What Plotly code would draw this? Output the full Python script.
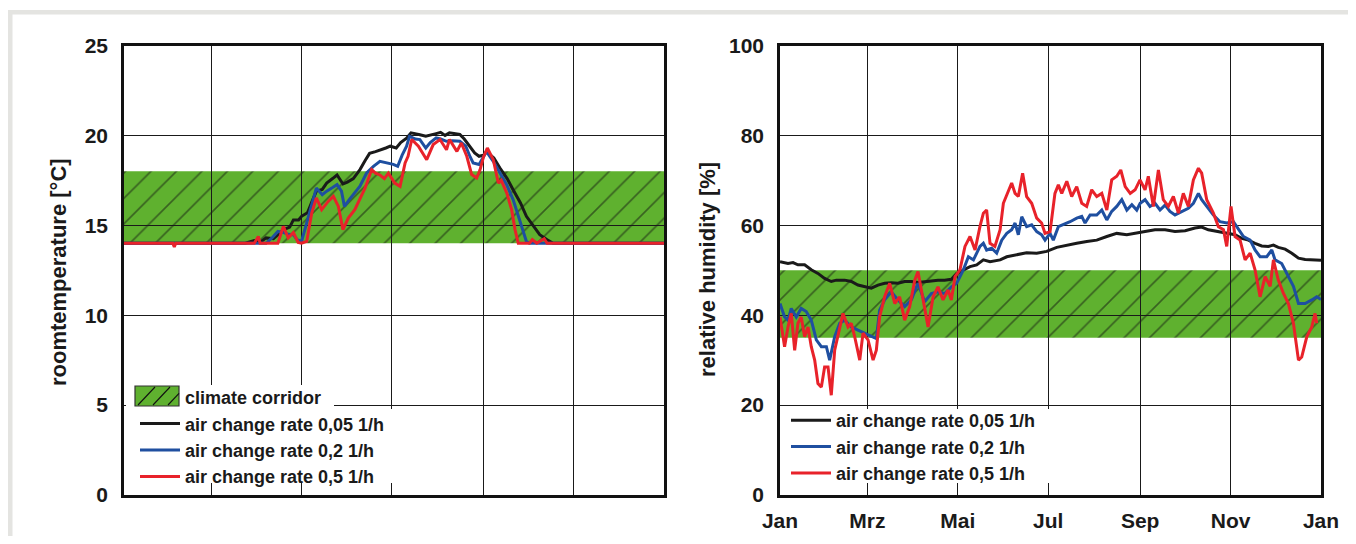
import plotly.graph_objects as go

# ---------------- data ----------------
MONTH_TICKS = [0, 59, 120, 181, 243, 304, 365]
MONTH_LABELS = ["Jan", "Mrz", "Mai", "Jul", "Sep", "Nov", "Jan"]

CORRIDOR_T = [14, 18]     # climate corridor, room temperature [°C]
CORRIDOR_RH = [35, 50]    # climate corridor, relative humidity [%]

SERIES_NAMES = ["air change rate 0,05 1/h", "air change rate 0,2 1/h", "air change rate 0,5 1/h"]

# room temperature, air change rate 0,05 1/h
T_BLACK_DAY = [0, 82, 88, 92, 96, 101, 108, 112, 114.5, 118, 120, 124, 127, 130, 134, 137, 141, 144, 148,
               151, 155, 159.5, 163, 166, 170, 173, 177, 180, 184, 187, 191, 194, 197, 200, 204, 207, 211,
               214, 217, 220, 224, 227, 230, 232, 234, 237, 240, 243, 245, 248, 250, 254, 259, 263, 268,
               272, 277, 281, 286, 290, 365]
T_BLACK = [14.0, 14.0, 14.15, 14.05, 14.3, 14.25, 14.76, 14.9, 15.3, 15.3, 15.5, 15.7, 16.3, 16.9, 17.0,
           17.35, 17.6, 17.8, 17.3, 17.4, 17.6, 18.1, 18.6, 19.0, 19.1, 19.17, 19.3, 19.4, 19.3, 19.6, 19.85,
           20.14, 20.1, 20.04, 19.95, 20.0, 20.1, 20.17, 20.0, 20.14, 20.1, 20.05, 19.8, 19.58, 19.3, 19.03,
           18.84, 18.9, 19.1, 18.9, 18.75, 18.2, 17.6, 16.98, 16.24, 15.5, 14.94, 14.48, 14.2, 14.0, 14.0]

# room temperature, air change rate 0,2 1/h
T_BLUE_DAY = [0, 96, 100, 104, 108, 111, 114.5, 117, 120, 123, 127, 130, 134, 137, 141, 144, 147, 149, 152,
              155, 159.5, 164, 168.6, 173, 177, 182, 185, 188, 191, 193, 197, 200, 204, 207, 211, 214, 218,
              222, 227, 231, 234, 236, 240, 245, 249.6, 254, 258.7, 263, 266.5, 270, 272, 274, 365]
T_BLUE = [14.0, 14.0, 14.3, 14.66, 14.6, 14.5, 14.48, 14.2, 14.1, 15.0, 16.3, 17.07, 16.7, 16.9, 17.1, 17.26,
          16.9, 16.05, 16.4, 16.7, 17.17, 17.91, 18.28, 18.56, 18.5, 18.39, 18.28, 18.9, 19.4, 19.95, 19.8,
          19.77, 19.3, 19.6, 19.86, 19.8, 19.67, 19.7, 19.67, 19.4, 18.8, 18.47, 18.38, 19.1, 18.56, 17.9,
          17.26, 16.43, 15.5, 14.57, 14.1, 14.0, 14.0]

# room temperature, air change rate 0,5 1/h
T_RED_DAY = [0, 33, 34, 35, 88, 90.8, 92, 104, 107.7, 111, 114.5, 117.7, 120, 123.5, 126.9, 130, 133.6, 138,
             141.5, 144.9, 148, 151.6, 156, 159.5, 163, 167.4, 170, 173, 176, 178.7, 183, 186.6, 190, 192,
             194.5, 199, 204.6, 209, 213.6, 218, 220, 225, 228, 231.7, 235, 238.4, 240.7, 243, 245.6, 249.6,
             253, 255, 258.7, 262, 264.3, 266.5, 274, 276, 279, 284, 286, 365]
T_RED = [14.0, 14.0, 13.8, 14.0, 14.0, 14.38, 14.0, 14.0, 14.94, 14.3, 14.6, 14.05, 14.0, 14.1, 15.68, 16.52,
         15.87, 16.33, 16.61, 16.05, 14.76, 15.4, 15.87, 16.43, 17.08, 18.1, 17.9, 17.8, 17.6, 17.9, 17.35,
         17.17, 18.47, 18.84, 19.77, 19.4, 18.65, 19.49, 19.77, 19.2, 19.77, 19.11, 19.58, 18.84, 17.82,
         17.63, 18.1, 18.8, 19.3, 18.65, 17.35, 17.5, 16.8, 15.87, 14.76, 14.0, 14.0, 14.2, 14.0, 14.25,
         14.0, 14.0]

# relative humidity, air change rate 0,05 1/h
RH_BLACK_DAY = [0, 5.4, 8.8, 12.1, 16.6, 21.1, 25.6, 30.1, 34.6, 38.0, 43.6, 48.1, 52.6, 57.1, 61.6, 66.1,
                70.6, 75.1, 79.6, 84.1, 88.6, 93.1, 97.6, 102.1, 106.6, 111.1, 115.6, 119.2, 123.7, 128.2,
                132.7, 137.2, 141.7, 148.5, 153.0, 159.7, 166.4, 173.2, 179.9, 186.7, 193.5, 200.2, 207.0,
                213.7, 220.5, 227.2, 234.0, 240.7, 246.3, 253.0, 259.8, 266.5, 273.3, 280.0, 284.5, 289.0,
                295.8, 302.5, 307.0, 311.5, 316.0, 320.5, 325.0, 329.5, 332.9, 336.2, 340.8, 345.3, 349.8,
                354.3, 361.0, 365]
RH_BLACK = [51.9, 51.5, 51.7, 51.2, 51.2, 50.1, 49.3, 48.2, 47.5, 47.8, 47.8, 47.5, 46.7, 46.3, 46.0, 46.7,
            47.1, 47.2, 47.1, 47.5, 47.5, 47.3, 47.5, 47.7, 47.8, 47.8, 48.0, 49.3, 50.1, 50.8, 51.2, 52.3,
            51.9, 52.3, 53.0, 53.4, 53.9, 53.8, 54.2, 55.1, 55.6, 56.0, 56.4, 56.7, 57.5, 58.2, 57.9, 58.2,
            58.6, 59.0, 59.0, 58.6, 58.8, 59.4, 59.6, 59.0, 58.6, 58.2, 57.9, 57.1, 56.7, 56.0, 55.4, 55.3,
            55.6, 55.1, 54.7, 53.8, 52.7, 52.4, 52.3, 52.2]

# relative humidity, air change rate 0,2 1/h
RH_BLUE_DAY = [0, 3.1, 5.4, 7.6, 11.0, 14.3, 17.7, 21.1, 24.5, 27.9, 31.3, 33.5, 36.9, 40.3, 43.6, 48.1, 52.6,
               57.1, 61.6, 65.0, 67.2, 70.6, 75.1, 79.6, 84.1, 88.6, 93.1, 97.6, 102.1, 106.6, 111.1, 115.6,
               119.2, 123.7, 127.1, 130.5, 134.9, 137.2, 139.4, 142.8, 146.2, 149.6, 153.0, 156.3, 158.6,
               160.8, 163.1, 166.4, 169.8, 173.2, 176.5, 178.8, 182.2, 184.4, 187.8, 191.2, 195.7, 200.2,
               203.6, 205.8, 209.2, 213.7, 217.1, 220.5, 223.8, 227.2, 230.6, 234.0, 237.4, 240.7, 243.0,
               246.3, 249.6, 253.0, 256.4, 259.8, 263.1, 266.5, 271.0, 275.5, 278.9, 282.3, 284.5, 287.9,
               292.4, 296.9, 301.4, 305.9, 309.3, 312.7, 317.2, 320.5, 323.9, 328.4, 331.8, 334.0, 338.5,
               343.0, 346.4, 349.8, 354.3, 358.8, 362.1, 365]
RH_BLUE = [42.6, 39.6, 38.9, 41.5, 39.6, 41.5, 40.8, 38.9, 34.5, 33.0, 33.0, 30.0, 35.2, 38.2, 38.9, 37.4,
           36.7, 36.0, 35.2, 34.8, 41.1, 43.4, 45.2, 43.4, 41.9, 43.4, 47.1, 43.0, 44.8, 45.2, 44.8, 46.3,
           47.1, 50.1, 53.0, 52.3, 55.3, 56.0, 54.5, 54.9, 53.8, 56.7, 58.2, 59.0, 60.5, 57.9, 61.9, 59.7,
           60.1, 58.6, 57.9, 56.7, 58.2, 56.7, 59.7, 60.1, 60.8, 61.6, 62.0, 60.5, 62.3, 62.3, 63.4, 61.2,
           63.1, 64.2, 65.7, 63.4, 64.6, 63.4, 64.9, 65.7, 64.2, 64.9, 63.4, 64.5, 63.1, 62.3, 63.1, 63.8,
           64.9, 67.1, 65.7, 64.2, 62.3, 60.8, 60.5, 60.8, 59.0, 57.5, 56.7, 54.5, 53.0, 53.0, 54.5, 52.3,
           51.5, 48.6, 46.4, 42.6, 42.6, 43.4, 44.1, 43.5]

# relative humidity, air change rate 0,5 1/h
RH_RED_DAY = [0, 3.1, 5.4, 7.6, 9.9, 12.1, 14.3, 16.6, 18.9, 21.1, 23.4, 25.6, 27.9, 30.1, 32.4, 34.6, 36.9,
              39.1, 42.5, 45.9, 48.1, 50.4, 53.8, 56.0, 59.4, 62.8, 65.0, 67.2, 70.6, 74.0, 77.4, 80.7,
              84.1, 87.5, 90.9, 93.1, 96.5, 99.9, 103.3, 106.6, 110.0, 113.4, 115.6, 118.1, 121.4, 124.8,
              128.2, 131.6, 134.9, 137.2, 139.4, 141.7, 145.0, 148.5, 150.7, 154.1, 156.3, 158.6, 160.8,
              163.7, 166.4, 169.8, 173.2, 176.5, 178.8, 182.2, 185.5, 187.8, 190.1, 193.5, 196.8, 200.2,
              203.6, 206.9, 210.3, 213.7, 217.1, 220.5, 223.8, 227.2, 229.9, 232.9, 236.3, 239.6, 242.9,
              246.3, 248.5, 251.9, 255.3, 258.6, 262.0, 265.4, 268.8, 272.1, 275.5, 278.9, 282.3, 284.5,
              287.9, 292.4, 295.8, 299.2, 301.4, 304.3, 307.0, 310.4, 313.8, 317.2, 320.5, 323.9, 327.3,
              330.7, 332.9, 336.2, 339.6, 343.0, 346.4, 349.8, 352.0, 355.4, 358.8, 361.0, 362.1]
RH_RED = [39.6, 33.0, 37.4, 40.4, 32.2, 38.2, 39.6, 35.2, 37.4, 33.0, 30.0, 24.8, 24.0, 28.5, 28.5, 22.2,
          32.2, 35.2, 40.4, 37.4, 38.2, 35.2, 30.0, 36.0, 34.5, 30.0, 32.2, 39.6, 44.1, 47.1, 42.6, 44.1,
          38.9, 41.9, 47.8, 49.7, 43.4, 37.4, 44.1, 46.3, 43.4, 45.6, 43.4, 48.6, 50.1, 55.3, 57.5, 54.5,
          59.7, 62.7, 63.4, 56.0, 55.3, 59.0, 64.9, 67.5, 69.4, 67.1, 66.4, 71.6, 66.4, 64.9, 61.6, 60.5,
          58.2, 58.6, 67.1, 69.0, 67.1, 69.8, 66.4, 68.6, 64.9, 64.2, 67.9, 66.4, 67.1, 63.4, 70.1, 70.9,
          72.3, 68.6, 67.1, 67.9, 70.1, 67.9, 70.9, 64.2, 72.3, 65.7, 64.2, 66.4, 62.7, 67.1, 64.2, 70.1,
          72.7, 71.6, 65.7, 62.7, 59.7, 59.0, 55.3, 64.2, 57.5, 56.7, 52.3, 53.8, 50.1, 44.1, 48.6, 46.4,
          52.3, 47.8, 44.9, 42.6, 38.2, 30.0, 30.7, 35.2, 37.4, 40.4, 38.2]

# ---------------- styling ----------------
PAGE_OFF = 8                     # default body margin of the html page
W, H = 1356 - 2 * PAGE_OFF, 544 - 2 * PAGE_OFF
FONT = "Liberation Sans, Arial, sans-serif"
GREEN = "#5fb12f"
COLORS = ["#1a1a1a", "#1f4fa0", "#e8222a"]
GRID = "#1a1a1a"


def px_x(p):
    """page pixel -> paper x"""
    return (p - PAGE_OFF) / W


def px_y(p):
    """page pixel -> paper y"""
    return 1 - (p - PAGE_OFF) / H


LEFT_DOM = [px_x(124), px_x(664)]
RIGHT_DOM = [px_x(780), px_x(1321)]
Y_DOM = [px_y(495), px_y(45.5)]

fig = go.Figure()

hatch = dict(shape="/", bgcolor=GREEN, fgcolor="#111111", size=18, solidity=0.09)

# corridor layers (drawn underneath the gridded axes)
fig.add_trace(go.Scatter(
    x=[MONTH_TICKS[0], MONTH_TICKS[-1], MONTH_TICKS[-1], MONTH_TICKS[0], MONTH_TICKS[0]],
    y=[CORRIDOR_T[0], CORRIDOR_T[0], CORRIDOR_T[1], CORRIDOR_T[1], CORRIDOR_T[0]],
    fill="toself", fillcolor=GREEN, fillpattern=hatch, mode="lines",
    line=dict(width=0, color=GREEN), showlegend=False,
    xaxis="x", yaxis="y", hoverinfo="skip"))
fig.add_trace(go.Scatter(
    x=[MONTH_TICKS[0], MONTH_TICKS[-1], MONTH_TICKS[-1], MONTH_TICKS[0], MONTH_TICKS[0]],
    y=[CORRIDOR_RH[0], CORRIDOR_RH[0], CORRIDOR_RH[1], CORRIDOR_RH[1], CORRIDOR_RH[0]],
    fill="toself", fillcolor=GREEN, fillpattern=hatch, mode="lines",
    line=dict(width=0, color=GREEN), showlegend=False,
    xaxis="x2", yaxis="y2", hoverinfo="skip"))

# legend entry for the corridor (its swatch is drawn as a shape below)
fig.add_trace(go.Scatter(x=[None], y=[None], mode="lines", name="climate corridor",
                         line=dict(width=0, color="rgba(0,0,0,0)"), xaxis="x3", yaxis="y3",
                         legend="legend"))

left = [(T_BLACK_DAY, T_BLACK), (T_BLUE_DAY, T_BLUE), (T_RED_DAY, T_RED)]
right = [(RH_BLACK_DAY, RH_BLACK), (RH_BLUE_DAY, RH_BLUE), (RH_RED_DAY, RH_RED)]

for (xd, yd), name, col in zip(left, SERIES_NAMES, COLORS):
    fig.add_trace(go.Scatter(x=xd, y=yd, mode="lines", name=name,
                             line=dict(color=col, width=3), xaxis="x3", yaxis="y3",
                             legend="legend"))
for (xd, yd), name, col in zip(right, SERIES_NAMES, COLORS):
    fig.add_trace(go.Scatter(x=xd, y=yd, mode="lines", name=name,
                             line=dict(color=col, width=3), xaxis="x4", yaxis="y4",
                             legend="legend2"))

tickfont = dict(family=FONT, size=21, color="#1a1a1a", weight="bold")

hidden = dict(visible=False, showgrid=False, zeroline=False, fixedrange=True, automargin=False)
grid_x = dict(range=[MONTH_TICKS[0], MONTH_TICKS[-1]], tickmode="array", tickvals=MONTH_TICKS,
              ticktext=MONTH_LABELS, showgrid=True, gridcolor=GRID, gridwidth=1.4,
              zeroline=False, showline=True, linecolor="#111111", linewidth=2.5, mirror=True,
              ticks="", tickfont=tickfont, ticklabelstandoff=5, automargin=False)
grid_y = dict(showgrid=True, gridcolor=GRID, gridwidth=1.4, zeroline=False, showline=True,
              linecolor="#111111", linewidth=2.5, mirror=True, ticks="", tickfont=tickfont,
              ticklabelstandoff=9, tickmode="linear", automargin=False)

legfont = dict(family=FONT, size=18, color="#1a1a1a", weight="bold")


def rect(x0, y0, x1, y1, fill, line=None):
    return dict(type="rect", xref="paper", yref="paper", x0=px_x(x0), x1=px_x(x1),
                y0=px_y(y1), y1=px_y(y0), fillcolor=fill,
                line=line or dict(width=0), layer="above")


# legend swatch geometry (page pixels)
SW_X0, SW_X1, SW_Y0, SW_Y1 = 135, 179, 386, 406
legend_shapes = [
    rect(126, 385, 334, 409, "white"),
    rect(126, 409, 400, 483, "white"),
    rect(782, 409, 1050, 483, "white"),
    rect(SW_X0, SW_Y0, SW_X1, SW_Y1, GREEN, dict(width=1.2, color="#333333")),
]
for k in range(3):
    xa = SW_X0 + 3 + k * 15
    xb = min(xa + 17, SW_X1)
    legend_shapes.append(dict(type="line", xref="paper", yref="paper",
                              x0=px_x(xa), y0=px_y(SW_Y1 - 1), x1=px_x(xb),
                              y1=px_y(SW_Y1 - 1 - (xb - xa) * 18 / 17),
                              line=dict(width=1.1, color="#111111"), layer="above"))

fig.update_layout(
    width=W, height=H,
    margin=dict(l=0, r=0, t=0, b=0, autoexpand=False),
    paper_bgcolor="white", plot_bgcolor="rgba(0,0,0,0)",
    xaxis=dict(domain=LEFT_DOM, range=[MONTH_TICKS[0], MONTH_TICKS[-1]], **hidden),
    yaxis=dict(domain=Y_DOM, range=[0, 25], anchor="x", **hidden),
    xaxis2=dict(domain=RIGHT_DOM, range=[MONTH_TICKS[0], MONTH_TICKS[-1]], anchor="y2", **hidden),
    yaxis2=dict(domain=Y_DOM, range=[0, 100], anchor="x2", **hidden),
    xaxis3=dict(domain=LEFT_DOM, anchor="y3", showticklabels=False, **grid_x),
    yaxis3=dict(domain=Y_DOM, anchor="x3", range=[0, 25], dtick=5, tick0=0, **grid_y),
    xaxis4=dict(domain=RIGHT_DOM, anchor="y4", showticklabels=True, **grid_x),
    yaxis4=dict(domain=Y_DOM, anchor="x4", range=[0, 100], dtick=20, tick0=0, **grid_y),
    legend=dict(x=px_x(135), y=px_y(379), xanchor="left", yanchor="top",
                bgcolor="rgba(0,0,0,0)", font=legfont,
                tracegroupgap=0, itemwidth=40, borderwidth=0),
    legend2=dict(x=px_x(786), y=px_y(402), xanchor="left", yanchor="top",
                 bgcolor="rgba(0,0,0,0)", font=legfont,
                 tracegroupgap=0, itemwidth=40, borderwidth=0),
    showlegend=True,
    annotations=[
        dict(text="roomtemperature [°C]", x=px_x(58), y=px_y(272), xref="paper", yref="paper",
             textangle=-90, showarrow=False, xanchor="center", yanchor="middle",
             font=dict(family=FONT, size=22, color="#1a1a1a", weight="bold")),
        dict(text="relative humidity [%]", x=px_x(707), y=px_y(270), xref="paper", yref="paper",
             textangle=-90, showarrow=False, xanchor="center", yanchor="middle",
             font=dict(family=FONT, size=22, color="#1a1a1a", weight="bold")),
    ],
    shapes=[
        dict(type="rect", xref="paper", yref="paper", x0=px_x(8), x1=1.0, y0=px_y(14.5), y1=px_y(10),
             fillcolor="#e4e4e1", line=dict(width=0), layer="below"),
        dict(type="rect", xref="paper", yref="paper", x0=px_x(8), x1=px_x(12.5), y0=0.0, y1=px_y(10),
             fillcolor="#e4e4e1", line=dict(width=0), layer="below"),
    ] + legend_shapes,
)

fig.write_html("out.html")
